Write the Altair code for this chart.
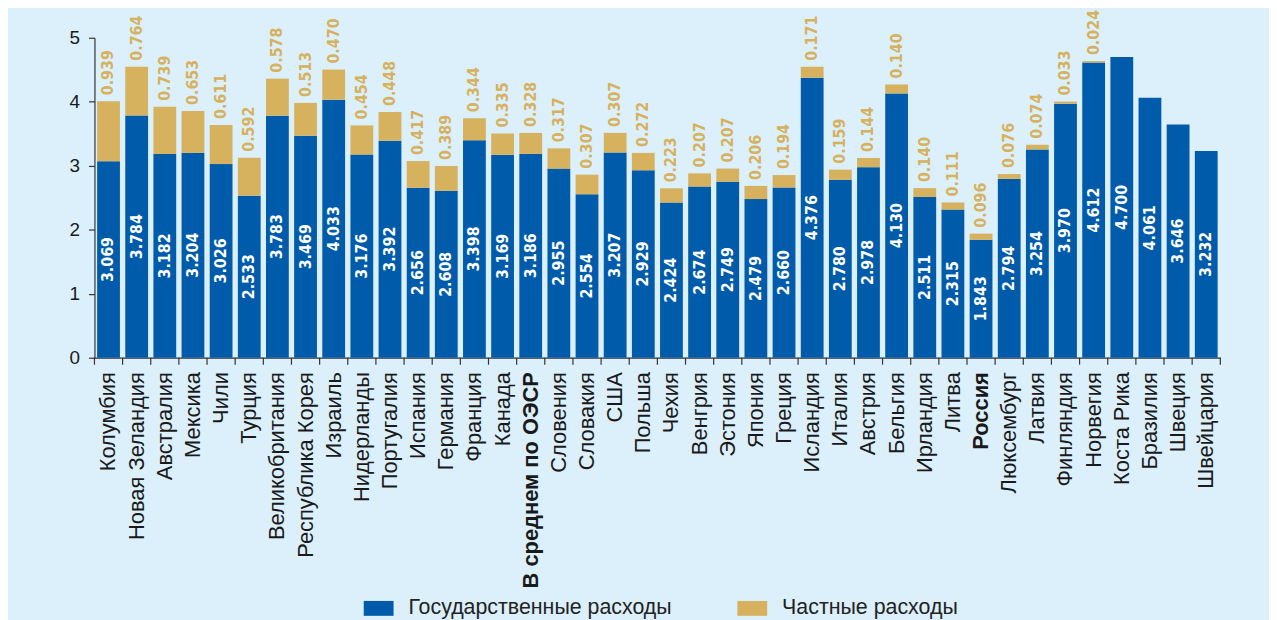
import altair as alt
import pandas as pd

countries = ["Колумбия", "Новая Зеландия", "Австралия", "Мексика", "Чили", "Турция",
             "Великобритания", "Республика Корея", "Израиль", "Нидерланды", "Португалия",
             "Испания", "Германия", "Франция", "Канада", "В среднем по ОЭСР", "Словения",
             "Словакия", "США", "Польша", "Чехия", "Венгрия", "Эстония", "Япония", "Греция",
             "Исландия", "Италия", "Австрия", "Бельгия", "Ирландия", "Литва", "Россия",
             "Люксембург", "Латвия", "Финляндия", "Норвегия", "Коста Рика", "Бразилия",
             "Швеция", "Швейцария"]

public = [3.069, 3.784, 3.182, 3.204, 3.026, 2.533, 3.783, 3.469, 4.033, 3.176, 3.392,
          2.656, 2.608, 3.398, 3.169, 3.186, 2.955, 2.554, 3.207, 2.929, 2.424, 2.674,
          2.749, 2.479, 2.660, 4.376, 2.780, 2.978, 4.130, 2.511, 2.315, 1.843, 2.794,
          3.254, 3.970, 4.612, 4.700, 4.061, 3.646, 3.232]

private = [0.939, 0.764, 0.739, 0.653, 0.611, 0.592, 0.578, 0.513, 0.470, 0.454, 0.448,
           0.417, 0.389, 0.344, 0.335, 0.328, 0.317, 0.307, 0.307, 0.272, 0.223, 0.207,
           0.207, 0.206, 0.194, 0.171, 0.159, 0.144, 0.140, 0.140, 0.111, 0.096, 0.076,
           0.074, 0.033, 0.024, None, None, None, None]

series_names = ["Государственные расходы", "Частные расходы"]
bold_labels = ["В среднем по ОЭСР", "Россия"]

BLUE = "#005BAA"
GOLD = "#D6B15E"
BG = "#DCF0FB"
COND = "DejaVu Sans Condensed, DejaVu Sans, sans-serif"
SANS = "Liberation Sans, Arial, sans-serif"

rows = []
for c, p, q in zip(countries, public, private):
    rows.append(dict(country=c, series=series_names[0], start=0.0, end=p, mid=p / 2, value=p))
    if q is not None:
        rows.append(dict(country=c, series=series_names[1], start=p, end=p + q, mid=p + q, value=q))
df = pd.DataFrame(rows)
ticks_df = pd.DataFrame({"country": countries})
last_df = pd.DataFrame({"country": countries[-1:]})

W, H = 1133, 322
PI = 0.19
PO = PI / 2
step = W / (len(countries) - PI + 2 * PO)
gap = PI * step

x_scale = alt.Scale(paddingInner=PI, paddingOuter=PO)
x_axis = alt.Axis(
    labelAngle=270, labelFont=SANS, labelFontSize=22, labelColor="#1a1a1a",
    labelFontWeight={"condition": {"test": "indexof(%s, datum.value) >= 0" % str(bold_labels),
                                   "value": "bold"}, "value": "normal"},
    labelPadding=14, ticks=False, tickSize=0, domainColor="#333", domainWidth=1.2,
    labelLimit=400,
)
x_enc = alt.X("country:N", sort=countries, title=None, scale=x_scale, axis=x_axis)

y_scale = alt.Scale(domain=[0, 5], nice=False)
y_axis = alt.Axis(values=[0, 1, 2, 3, 4, 5], grid=False, labelFont=SANS, labelFontSize=19,
                  labelColor="#1a1a1a", tickSize=6, tickColor="#333", domainColor="#333",
                  tickWidth=1.2, domainWidth=1.2, labelPadding=9, title=None)

bars = alt.Chart(df).mark_bar().encode(
    x=x_enc,
    y=alt.Y("start:Q", scale=y_scale, axis=y_axis),
    y2="end:Q",
    color=alt.Color(
        "series:N",
        scale=alt.Scale(domain=series_names, range=[BLUE, GOLD]),
        legend=alt.Legend(
            title=None, orient="none", legendX=271, legendY=559, direction="horizontal",
            symbolType="M-1,-0.5H1V0.5H-1Z", symbolSize=900, symbolStrokeWidth=0,
            symbolOpacity=1, labelFont=SANS, labelFontSize=21.5, labelColor="#222",
            labelOffset=15, columnPadding=66, labelLimit=400,
        ),
    ),
)

pub_text = alt.Chart(df).transform_filter(
    alt.datum.series == series_names[0]
).mark_text(angle=270, align="center", baseline="middle", color="white",
            font=COND, fontWeight="bold", fontSize=16).encode(
    x=x_enc,
    y=alt.Y("mid:Q", scale=y_scale, axis=y_axis),
    text=alt.Text("value:Q", format=".3f"),
)

priv_text = alt.Chart(df).transform_filter(
    alt.datum.series == series_names[1]
).mark_text(angle=270, align="left", baseline="middle", color=GOLD,
            font=COND, fontWeight="bold", fontSize=16, yOffset=-6).encode(
    x=x_enc,
    y=alt.Y("mid:Q", scale=y_scale, axis=y_axis),
    text=alt.Text("value:Q", format=".3f"),
)

tick_marks = alt.Chart(ticks_df).mark_rule(color="#333", strokeWidth=1.2, xOffset=-gap / 2).encode(
    x=alt.X("country:N", sort=countries, scale=x_scale, axis=x_axis, title=None, bandPosition=0),
    y=alt.value(H), y2=alt.value(H + 7),
)
end_tick = alt.Chart(last_df).mark_rule(color="#333", strokeWidth=1.2, xOffset=gap / 2).encode(
    x=alt.X("country:N", sort=countries, scale=x_scale, axis=x_axis, title=None, bandPosition=1),
    y=alt.value(H), y2=alt.value(H + 7),
)

chart = alt.layer(bars, pub_text, priv_text, tick_marks, end_tick).properties(
    width=W, height=H,
    autosize=alt.AutoSizeParams(type="none"),
    padding={"left": 87, "top": 28, "right": 49, "bottom": 262},
    background=BG,
).configure_view(stroke=None)

chart.save("out.html", embed_options={"renderer": "svg", "actions": False})
